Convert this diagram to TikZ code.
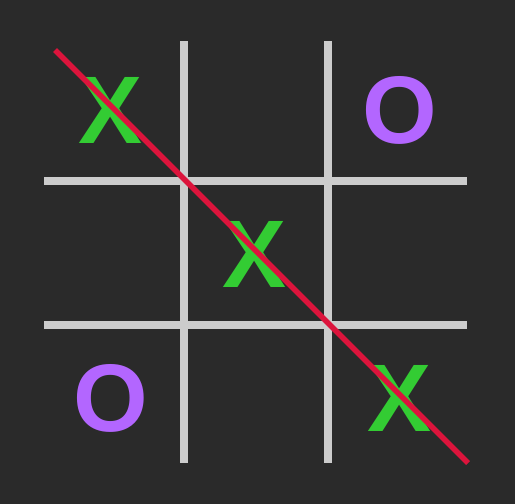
\documentclass[tikz,border=0pt]{standalone}
\usepackage{fontspec}
\setmainfont{Liberation Sans}
\definecolor{bg}{HTML}{2A2A2A}
\definecolor{gridc}{HTML}{CCCCCC}
\definecolor{xc}{HTML}{33CC33}
\definecolor{oc}{HTML}{B366FF}
\definecolor{winc}{HTML}{DC143C}
\begin{document}
\begin{tikzpicture}[x=1pt,y=-1pt,
  gridline/.style={gridc,line width=8pt},
  mark x/.style={text=xc,font=\fontsize{96}{96}\selectfont\bfseries,inner sep=0pt,anchor=base},
  mark o/.style={text=oc,font=\fontsize{96}{96}\selectfont\bfseries,inner sep=0pt,anchor=base},
  winline/.style={winc,line width=5.5pt}]
\fill[bg] (0,0) rectangle (515,504);
\useasboundingbox (0,0) rectangle (515,504);
\coordinate (v1t) at (183.5,41); \coordinate (v1b) at (183.5,463);
\coordinate (v2t) at (327.5,41); \coordinate (v2b) at (327.5,463);
\coordinate (h1l) at (44,180.5); \coordinate (h1r) at (467,180.5);
\coordinate (h2l) at (44,324.5); \coordinate (h2r) at (467,324.5);
\draw[gridline] (v1t) -- (v1b);
\draw[gridline] (v2t) -- (v2b);
\draw[gridline] (h1l) -- (h1r);
\draw[gridline] (h2l) -- (h2r);
\node[mark x] (c11) at (111,143) {X};
\node[mark o] (c13) at (400,143) {O};
\node[mark x] (c22) at (255,287) {X};
\node[mark o] (c31) at (111,431) {O};
\node[mark x] (c33) at (400,431) {X};
\coordinate (ws) at (55,50);
\coordinate (we) at (468,463);
\draw[winline] (ws) -- (we);
\end{tikzpicture}
\end{document}
